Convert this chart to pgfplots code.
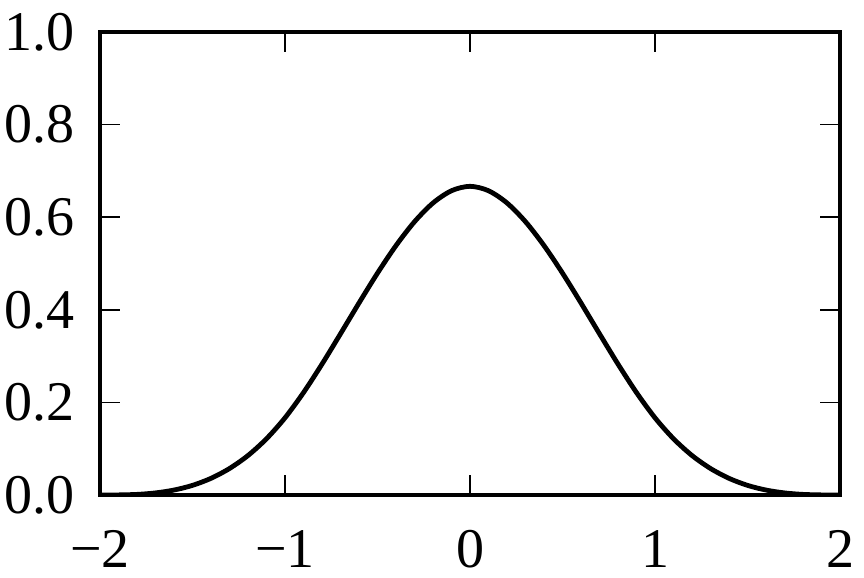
\documentclass[border=0pt]{standalone}
\usepackage{fontspec}
\setmainfont{Liberation Serif}
\usepackage{pgfplots}
\pgfplotsset{compat=1.18}
\begin{document}
\begin{tikzpicture}
\begin{axis}[
  scale only axis,
  width=370pt, height=231.5pt,
  xmin=-2, xmax=2, ymin=0, ymax=1,
  xtick={-2,-1,0,1,2},
  xticklabels={−2,−1,0,1,2},
  ytick={0,0.2,0.4,0.6,0.8,1.0},
  yticklabels={0.0,0.2,0.4,0.6,0.8,1.0},
  tick align=inside,
  tick pos=both,
  major tick length=10pt,
  tick style={line width=0.8pt, black},
  axis line style={line width=2.4pt},
  ticklabel style={font=\fontsize{28}{28}\selectfont},
  xticklabel style={yshift=-14pt},
  yticklabel style={xshift=-9pt},
  /pgf/number format/assume math mode=true,
]
\addplot[black, line width=2.4pt, smooth] coordinates {
(-2.0,0) (-1.9,0.0002) (-1.8,0.0013) (-1.7,0.0045) (-1.6,0.0107) (-1.5,0.0208)
(-1.4,0.0360) (-1.3,0.0572) (-1.2,0.0853) (-1.1,0.1215) (-1.0,0.1667)
(-0.9,0.2212) (-0.8,0.2827) (-0.7,0.3482) (-0.6,0.4147) (-0.5,0.4792)
(-0.4,0.5387) (-0.3,0.5902) (-0.2,0.6307) (-0.1,0.6572) (0.0,0.6667)
(0.1,0.6572) (0.2,0.6307) (0.3,0.5902) (0.4,0.5387) (0.5,0.4792)
(0.6,0.4147) (0.7,0.3482) (0.8,0.2827) (0.9,0.2212) (1.0,0.1667)
(1.1,0.1215) (1.2,0.0853) (1.3,0.0572) (1.4,0.0360) (1.5,0.0208)
(1.6,0.0107) (1.7,0.0045) (1.8,0.0013) (1.9,0.0002) (2.0,0)
};
\coordinate (sw) at (rel axis cs:0,0);
\coordinate (ne) at (rel axis cs:1,1);
\end{axis}
\pgfresetboundingbox
\path ([shift={(-50pt,-41pt)}]sw) rectangle ([shift={(12pt,16pt)}]ne);
\end{tikzpicture}
\end{document}
